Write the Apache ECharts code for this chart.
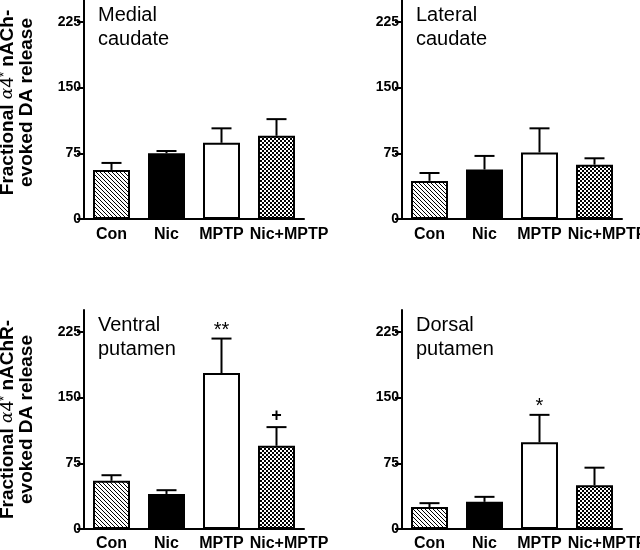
<!DOCTYPE html>
<html>
<head>
<meta charset="utf-8">
<script src="https://cdn.jsdelivr.net/npm/echarts@6/dist/echarts.min.js"></script>
<style>
  html, body { margin: 0; padding: 0; background: #ffffff; }
  #chart { width: 640px; height: 550px; }
</style>
</head>
<body>
<div id="chart"></div>
<script>
const groups = ["Con", "Nic", "MPTP", "Nic+MPTP"];
const yTicks = [0, 75, 150, 225];
const yMax = 250;

const panelNames = ["Medial\ncaudate", "Lateral\ncaudate", "Ventral\nputamen", "Dorsal\nputamen"];

const medialMean = [56, 75, 87, 95];
const medialSem = [8, 2.6, 16.5, 19];
const medialMarks = ["", "", "", ""];

const lateralMean = [43.5, 56.5, 76, 62];
const lateralSem = [9, 15.5, 27.5, 7.3];
const lateralMarks = ["", "", "", ""];

const ventralMean = [55, 40, 178, 95];
const ventralSem = [6.4, 4.3, 39.4, 21.3];
const ventralMarks = ["", "", "**", "+"];

const dorsalMean = [25, 31, 99, 50];
const dorsalSem = [4.5, 5.7, 31.3, 20];
const dorsalMarks = ["", "", "*", ""];

const FONT = "'Liberation Sans', Arial, Helvetica, sans-serif";

// fill patterns: hatch, solid, open, checker
function makeHatch() {
  const c = document.createElement("canvas");
  c.width = 4; c.height = 4;
  const g = c.getContext("2d");
  g.fillStyle = "#fff"; g.fillRect(0, 0, 4, 4);
  g.strokeStyle = "#000"; g.lineWidth = 1;
  g.beginPath();
  g.moveTo(-1, -1); g.lineTo(5, 5);
  g.moveTo(-1, 3); g.lineTo(1, 5);
  g.moveTo(3, -1); g.lineTo(5, 1);
  g.stroke();
  return c;
}
function makeChecker() {
  const c = document.createElement("canvas");
  c.width = 4; c.height = 4;
  const g = c.getContext("2d");
  g.fillStyle = "#fff"; g.fillRect(0, 0, 4, 4);
  g.fillStyle = "#000";
  g.fillRect(0, 0, 2, 2);
  g.fillRect(2, 2, 2, 2);
  return c;
}
const fills = [
  { image: makeHatch(), repeat: "repeat" },
  "#000000",
  "#ffffff",
  { image: makeChecker(), repeat: "repeat" },
];

const panels = [
  { mean: medialMean, sem: medialSem, marks: medialMarks, left: 84, top: 0, shift: 14, yName: "Fractional {a|α}{n|4}{s|*} nACh-\nevoked DA release" },
  { mean: lateralMean, sem: lateralSem, marks: lateralMarks, left: 402, top: 0, shift: 0, yName: "" },
  { mean: ventralMean, sem: ventralSem, marks: ventralMarks, left: 84, top: 310, shift: 0, yName: "Fractional {a|α}{n|4}{s|*} nAChR-\nevoked DA release" },
  { mean: dorsalMean, sem: dorsalSem, marks: dorsalMarks, left: 402, top: 310, shift: 0, yName: "" },
];

const grids = [], xAxes = [], yAxes = [], series = [], titles = [];

panels.forEach((p, i) => {
  grids.push({ left: p.left, top: p.top, width: 220, height: 219, outerBoundsMode: "none", containLabel: false });

  xAxes.push({
    type: "category",
    gridIndex: i,
    // last label is pushed right a bit so it clears "MPTP", as in the original
    data: groups.map((g, k) => (k === groups.length - 1 ? { value: g, textStyle: { padding: [0, 0, 0, 25] } } : g)),
    axisLine: { lineStyle: { color: "#000", width: 2 } },
    axisTick: { alignWithLabel: true, length: 5, lineStyle: { color: "#000", width: 2 } },
    axisLabel: { color: "#000", fontFamily: FONT, fontWeight: "bold", fontSize: 16, margin: i < 2 ? 8 : 7, interval: 0, hideOverlap: false },
    splitLine: { show: false },
  });

  yAxes.push({
    type: "value",
    gridIndex: i,
    min: 0,
    max: yMax,
    name: p.yName,
    nameLocation: "middle",
    nameRotate: 90,
    nameGap: 48,
    nameTextStyle: {
      color: "#000",
      fontFamily: FONT,
      fontWeight: "bold",
      fontSize: 19,
      lineHeight: 19,
      align: "center",
      padding: [0, 0, 0, p.shift],
      rich: {
        a: { fontFamily: "'DejaVu Serif', serif", fontStyle: "italic", fontWeight: "normal", fontSize: 17, color: "#000" },
        n: { fontFamily: FONT, fontWeight: "normal", fontSize: 19, color: "#000" },
        s: { fontFamily: FONT, fontWeight: "normal", fontSize: 13, color: "#000", verticalAlign: "top" },
      },
    },
    axisLine: { show: true, lineStyle: { color: "#000", width: 2 } },
    axisTick: { show: true, length: 7, customValues: yTicks, lineStyle: { color: "#000", width: 2 } },
    axisLabel: { color: "#000", fontFamily: FONT, fontWeight: "bold", fontSize: 14, margin: 3, customValues: yTicks },
    splitLine: { show: false },
  });

  titles.push({
    text: panelNames[i],
    left: p.left + 14,
    top: p.top + 3,
    padding: 0,
    textStyle: { color: "#000", fontFamily: FONT, fontWeight: "normal", fontSize: 20, lineHeight: 24 },
  });

  series.push({
    type: "bar",
    xAxisIndex: i,
    yAxisIndex: i,
    barWidth: 37,
    data: p.mean.map((v, k) => ({ value: v, itemStyle: { color: fills[k] } })),
    itemStyle: { borderColor: "#000", borderWidth: 2 },
    emphasis: { disabled: true },
    z: 2,
  });

  const marks = p.marks;
  series.push({
    type: "custom",
    xAxisIndex: i,
    yAxisIndex: i,
    data: p.mean.map((v, k) => [k, v, p.sem[k]]),
    z: 3,
    renderItem: (params, api) => {
      const x = api.value(0), m = api.value(1), e = api.value(2);
      const base = api.coord([x, m]);
      const top = api.coord([x, m + e]);
      const line = { stroke: "#000", lineWidth: 2 };
      const children = [
        { type: "line", shape: { x1: base[0], y1: base[1], x2: top[0], y2: top[1] }, style: line },
        { type: "line", shape: { x1: top[0] - 10, y1: top[1], x2: top[0] + 10, y2: top[1] }, style: line },
      ];
      const mark = marks[params.dataIndex];
      if (mark) {
        const plus = mark === "+";
        children.push({
          type: "text",
          x: top[0],
          y: top[1] + (plus ? -2 : 2),
          style: {
            text: mark,
            align: "center",
            verticalAlign: "bottom",
            fontFamily: FONT,
            fontWeight: plus ? "bold" : "normal",
            fontSize: plus ? 18 : 20,
            fill: "#000",
          },
        });
      }
      return { type: "group", children };
    },
  });
});

const chart = echarts.init(document.getElementById("chart"), null, { renderer: "canvas" });
chart.setOption({
  backgroundColor: "#ffffff",
  animation: false,
  title: titles,
  grid: grids,
  xAxis: xAxes,
  yAxis: yAxes,
  series: series,
});
</script>
</body>
</html>
